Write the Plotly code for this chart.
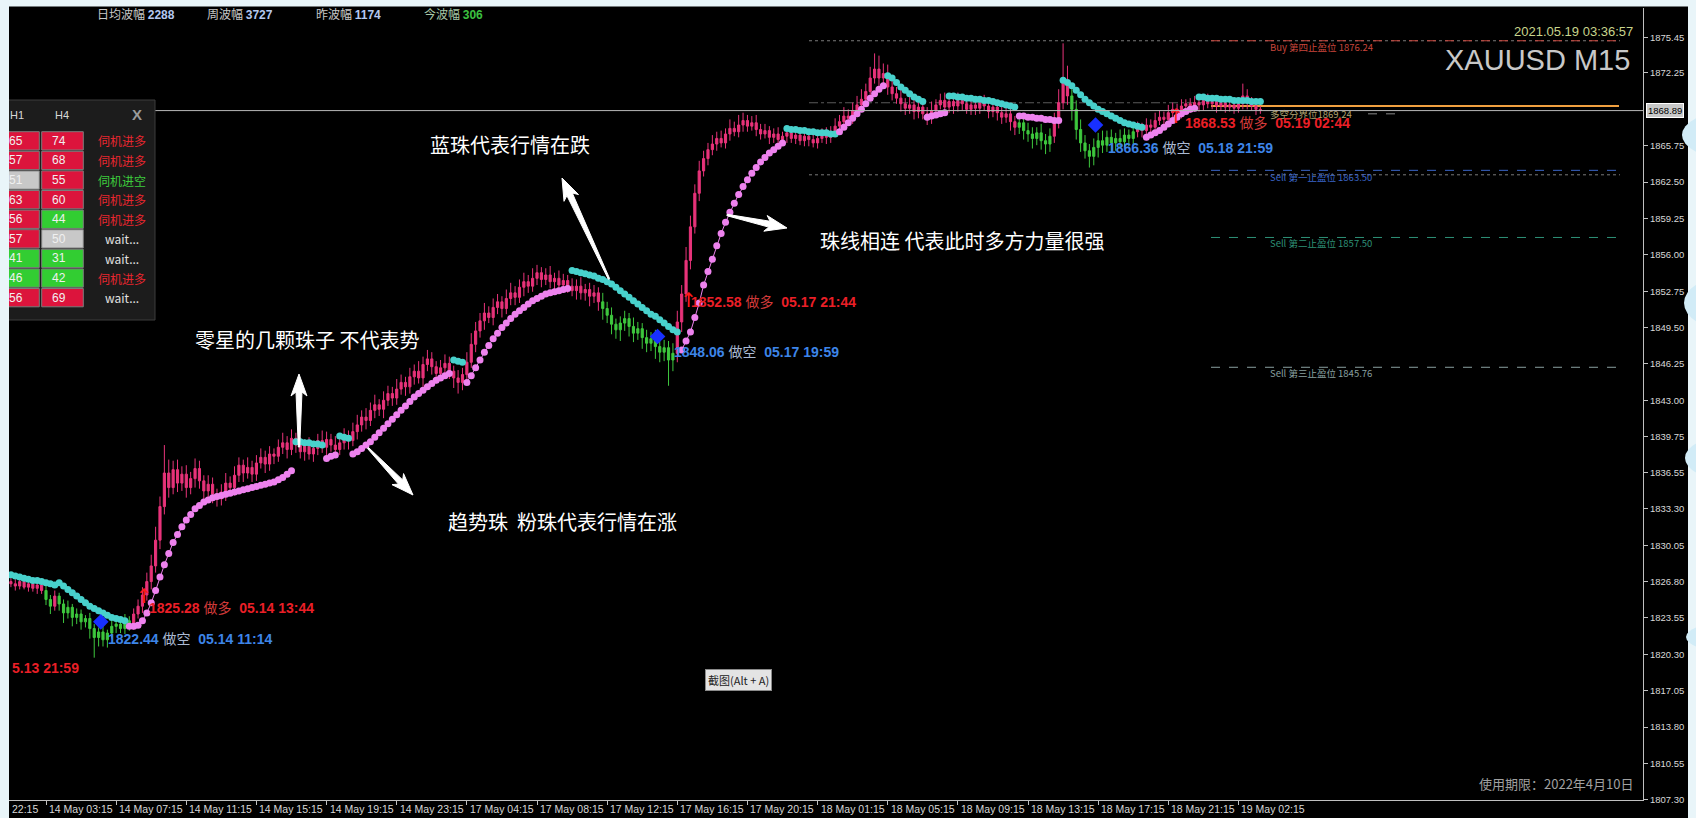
import math
import plotly.graph_objects as go

# ---------------- data ----------------
first_bar = -8
first_open = 1826.8
close = [
    1826.6, 1826.4, 1826.8, 1826.3, 1826.6, 1826.2, 1826.5, 1826.0,
    1825.2, 1824.6, 1825.5, 1824.8, 1824.0, 1824.5, 1823.6, 1823.9, 1823.2, 1823.5,
    1822.6, 1821.8, 1822.3, 1821.6, 1822.2, 1822.8, 1823.0, 1822.6, 1823.3, 1823.0,
    1823.9, 1824.6, 1825.6, 1826.8, 1828.2, 1830.5, 1833.5, 1836.5, 1835.2, 1836.8,
    1835.6, 1836.4, 1835.2, 1836.0, 1836.9, 1835.8, 1834.9, 1835.5, 1834.6, 1834.2,
    1834.8, 1835.6, 1835.2, 1836.3, 1837.2, 1836.5, 1837.0, 1836.4, 1837.4, 1837.9,
    1837.3, 1838.2, 1838.0, 1838.8, 1839.2, 1838.6, 1839.6, 1839.0, 1838.4, 1838.9,
    1838.2, 1838.7, 1839.4, 1838.8, 1839.5, 1839.0, 1838.6, 1839.2, 1839.8, 1839.4,
    1840.2, 1840.8, 1841.5, 1841.2, 1842.1, 1842.6, 1842.2, 1843.0, 1843.6, 1843.2,
    1844.0, 1844.6, 1844.2, 1845.1, 1845.6, 1845.0, 1846.2, 1846.7, 1846.0, 1845.4,
    1845.9, 1846.3, 1845.6, 1845.0, 1844.6, 1845.3, 1846.4, 1848.0, 1849.2, 1850.1,
    1850.8, 1850.4, 1851.3, 1851.8, 1851.2, 1852.1, 1852.6, 1852.2, 1853.1, 1853.6,
    1853.2, 1853.9, 1854.4, 1853.8, 1854.2, 1853.6, 1853.9, 1853.3, 1853.7, 1853.2,
    1852.8, 1853.2, 1852.6, 1852.9, 1852.3, 1852.6, 1851.8, 1851.2, 1850.6, 1849.8,
    1849.3, 1849.9, 1850.3, 1849.6, 1849.0, 1849.4, 1848.6, 1848.1, 1848.5, 1847.8,
    1847.3, 1847.7, 1846.6, 1847.2, 1850.0, 1852.5, 1855.5, 1858.5, 1861.5, 1863.5,
    1864.6, 1865.4, 1865.9, 1866.4, 1866.0, 1866.8, 1867.3, 1867.0, 1867.6, 1868.0,
    1867.5, 1867.8, 1867.2, 1866.8, 1867.1, 1866.5, 1866.8, 1866.3, 1866.6, 1866.9,
    1866.4, 1866.7, 1866.2, 1866.6, 1866.3, 1866.0, 1866.4, 1866.8, 1866.5, 1867.0,
    1867.5, 1867.9, 1868.4, 1868.2, 1868.9, 1869.4, 1869.9, 1870.6, 1871.8, 1872.6,
    1871.8, 1872.2, 1871.0, 1870.4, 1870.0, 1869.5, 1869.1, 1869.4, 1868.8, 1869.2,
    1868.6, 1868.3, 1868.9, 1869.4, 1869.8, 1869.2, 1869.7, 1869.3, 1869.8, 1869.5,
    1869.0, 1869.4, 1869.1, 1869.6, 1869.3, 1868.8, 1869.2, 1868.7, 1868.3, 1868.6,
    1867.9, 1867.4, 1867.8, 1867.1, 1866.8, 1866.4, 1866.9, 1866.2, 1865.9, 1866.6,
    1867.8, 1869.6, 1871.4, 1870.2, 1869.0, 1867.2, 1866.0, 1865.3, 1864.8, 1865.6,
    1866.2, 1865.8, 1866.5, 1866.0, 1866.4, 1866.1, 1866.7, 1866.4, 1867.0, 1867.3,
    1867.1, 1867.6, 1867.4, 1868.0, 1868.3, 1868.1, 1868.7, 1869.0, 1868.8, 1869.3,
    1869.5, 1869.2, 1869.6, 1869.4, 1869.8, 1869.5, 1869.7, 1869.3, 1869.6, 1869.2,
    1869.4, 1869.1, 1869.5, 1870.2, 1869.6, 1869.3, 1869.0, 1868.9,
]
wick_hi = [
    0.3, 0.4, 0.2, 0.5, 0.3, 0.4, 0.3, 0.5, 0.6, 0.4, 0.5, 0.3, 0.4, 0.6, 0.3, 0.5, 0.4, 0.3, 0.5, 0.4,
    0.4, 0.6, 0.3, 0.5, 0.4, 0.3, 0.6, 0.4, 0.5, 0.6, 0.7, 0.8, 1.0, 1.2, 0.9, 2.5, 1.2, 0.8, 0.9, 0.7,
    0.8, 0.6, 0.9, 0.7, 0.5, 0.8, 0.6, 0.5, 0.7, 0.9, 0.6, 0.8, 0.7, 0.5, 0.9, 0.6, 0.7, 0.8, 0.6, 0.7,
    0.5, 0.7, 0.9, 0.6, 0.8, 0.5, 0.7, 0.6, 0.8, 0.5, 0.6, 0.9, 0.7, 0.5, 0.8, 0.6, 0.7, 0.5, 0.8, 0.9,
    0.6, 0.8, 0.7, 0.9, 0.5, 0.8, 0.7, 0.6, 0.9, 0.7, 0.5, 0.8, 0.6, 0.9, 0.7, 0.8, 0.6, 0.5, 0.7, 0.8,
    0.6, 0.5, 0.7, 0.6, 0.9, 1.0, 0.8, 0.7, 0.9, 0.6, 0.8, 0.7, 0.5, 0.8, 0.9, 0.6, 0.7, 0.8, 0.6, 0.9,
    0.7, 0.5, 0.6, 0.8, 0.5, 0.7, 0.6, 0.5, 0.7, 0.6, 0.8, 0.5, 0.6, 0.7, 0.5, 0.8, 0.6, 0.7, 0.5, 0.6,
    0.7, 0.5, 0.8, 0.6, 0.5, 0.7, 0.6, 0.8, 0.5, 0.7, 0.6, 0.9, 1.0, 0.8, 1.2, 1.0, 0.8, 0.9, 0.7, 0.6,
    0.8, 0.6, 0.7, 0.5, 0.8, 0.6, 0.9, 0.7, 0.5, 0.6, 0.7, 0.5, 0.6, 0.4, 0.5, 0.6, 0.4, 0.5, 0.6, 0.4,
    0.5, 0.4, 0.6, 0.5, 0.4, 0.5, 0.6, 0.5, 0.7, 0.6, 0.8, 0.6, 0.7, 0.8, 0.9, 0.7, 1.0, 1.4, 1.2, 0.9,
    0.8, 0.7, 0.6, 0.8, 0.5, 0.7, 0.6, 0.5, 0.7, 0.6, 0.8, 0.5, 0.6, 0.7, 0.5, 0.6, 0.7, 0.5, 0.6, 0.8,
    0.5, 0.6, 0.7, 0.5, 0.6, 0.4, 0.5, 0.6, 0.7, 0.5, 0.6, 0.5, 0.7, 0.6, 0.5, 0.8, 0.6, 0.7, 0.9, 1.2,
    3.5, 1.5, 1.0, 0.8, 0.9, 0.7, 0.6, 0.8, 0.7, 0.9, 0.6, 0.7, 0.5, 0.8, 0.6, 0.5, 0.7, 0.6, 0.5, 0.6,
    0.5, 0.7, 0.6, 0.5, 0.7, 0.6, 0.5, 0.6, 0.4, 0.5, 0.6, 0.4, 0.5, 0.6, 0.4, 0.5, 0.6, 0.4, 0.5, 0.4,
    0.5, 1.1, 0.6, 0.5, 0.4, 0.3,
]
wick_lo = [
    0.3, 0.4, 0.3, 0.2, 0.4, 0.3, 0.5, 0.3, 0.5, 0.7, 0.4, 0.6, 0.9, 0.5, 0.8, 0.6, 0.7, 0.5, 0.9, 1.8,
    0.8, 0.6, 0.7, 0.5, 0.6, 0.4, 0.5, 0.6, 0.5, 0.4, 0.6, 0.5, 0.7, 0.6, 0.8, 0.7, 0.9, 0.6, 0.8, 0.7,
    0.9, 0.6, 0.8, 0.7, 0.9, 0.6, 0.8, 0.7, 0.6, 0.8, 0.5, 0.7, 0.6, 0.8, 0.5, 0.7, 0.6, 0.5, 0.8, 0.6,
    0.7, 0.5, 0.6, 0.8, 0.5, 0.7, 0.6, 0.8, 0.5, 0.7, 0.6, 0.5, 0.8, 0.6, 0.7, 0.5, 0.6, 0.8, 0.5, 0.7,
    0.6, 0.8, 0.5, 0.7, 0.6, 0.8, 0.5, 0.7, 0.6, 0.5, 0.8, 0.6, 0.7, 0.5, 0.8, 0.6, 0.7, 0.9, 0.6, 0.8,
    0.7, 0.9, 1.0, 0.7, 0.6, 0.5, 0.7, 0.6, 0.8, 0.5, 0.7, 0.6, 0.8, 0.5, 0.6, 0.7, 0.5, 0.8, 0.6, 0.5,
    0.6, 0.7, 0.5, 0.6, 0.8, 0.5, 0.7, 0.6, 0.5, 0.8, 0.6, 0.7, 0.9, 0.6, 0.8, 1.0, 0.7, 0.9, 0.8, 1.0,
    0.7, 0.9, 0.8, 0.6, 1.0, 0.8, 0.7, 1.1, 0.9, 0.8, 2.3, 1.0, 0.8, 0.9, 0.7, 0.8, 0.6, 0.7, 0.5, 0.6,
    0.5, 0.6, 0.4, 0.5, 0.6, 0.4, 0.5, 0.6, 0.5, 0.4, 0.6, 0.5, 0.4, 0.6, 0.5, 0.4, 0.5, 0.6, 0.4, 0.5,
    0.4, 0.5, 0.6, 0.4, 0.5, 0.4, 0.6, 0.5, 0.4, 0.5, 0.6, 0.4, 0.5, 0.6, 0.5, 0.4, 0.6, 0.5, 0.7, 0.6,
    0.7, 0.6, 0.5, 0.7, 0.6, 0.5, 0.7, 0.6, 0.5, 0.7, 0.6, 0.5, 0.4, 0.6, 0.5, 0.7, 0.5, 0.6, 0.4, 0.5,
    0.6, 0.5, 0.4, 0.6, 0.5, 0.7, 0.6, 0.5, 0.8, 0.7, 0.6, 0.8, 0.7, 0.9, 0.6, 0.8, 0.9, 0.7, 0.6, 0.5,
    0.6, 0.8, 1.0, 0.9, 0.8, 0.7, 1.0, 0.8, 0.9, 0.7, 0.6, 0.8, 0.7, 0.6, 0.5, 0.7, 0.6, 0.5, 0.6, 0.5,
    0.6, 0.5, 0.4, 0.6, 0.5, 0.4, 0.5, 0.6, 0.4, 0.5, 0.4, 0.6, 0.5, 0.4, 0.5, 0.6, 0.4, 0.5, 0.4, 0.5,
    0.4, 0.5, 0.6, 0.4, 0.5, 0.3,
]
# candle colour runs: (colour, number of bars)  p = pink, g = green
candle_runs = [("p", 8), ("g", 2), ("p", 1), ("g", 17), ("p", 107), ("g", 17),
               ("p", 78), ("g", 8), ("p", 4), ("g", 15), ("p", 29)]

# trend beads: (colour, first bar, values)  c = cyan (down), p = pink (up)
bead_segs = [
    ("c", -8, [1827.4, 1827.3, 1827.2, 1827.1, 1827.0, 1826.9, 1826.9, 1826.8, 1826.7, 1826.6,
               1826.5, 1826.7, 1826.4, 1826.1, 1825.8, 1825.5, 1825.2, 1824.9, 1824.6, 1824.4,
               1824.2, 1824.0, 1823.8, 1823.6, 1823.5, 1823.4, 1823.3]),
    ("p", 19, [1822.8, 1822.8, 1822.9, 1823.3, 1824.0, 1824.9, 1826.0, 1827.2, 1828.3, 1829.3,
               1830.3, 1831.0, 1831.7, 1832.3, 1832.8, 1833.3, 1833.6, 1833.9, 1834.1, 1834.3,
               1834.4, 1834.5, 1834.6, 1834.7, 1834.8, 1834.9, 1835.0, 1835.1, 1835.2, 1835.3,
               1835.4, 1835.5, 1835.6, 1835.7, 1835.9, 1836.1, 1836.4, 1836.7]),
    ("c", 57, [1839.3, 1839.3, 1839.2, 1839.2, 1839.1, 1839.1, 1839.0]),
    ("p", 64, [1837.8, 1838.0, 1838.1]),
    ("c", 67, [1839.8, 1839.7, 1839.6]),
    ("p", 70, [1838.2, 1838.4, 1838.7, 1839.0, 1839.3, 1839.7, 1840.1, 1840.5, 1840.9, 1841.3,
               1841.7, 1842.1, 1842.5, 1842.9, 1843.3, 1843.6, 1843.9, 1844.2, 1844.5, 1844.8,
               1845.0, 1845.2, 1845.4]),
    ("c", 93, [1846.6, 1846.5, 1846.4]),
    ("p", 96, [1844.6, 1845.2, 1845.9, 1846.6, 1847.3, 1847.9, 1848.5, 1849.0, 1849.5, 1849.9,
               1850.3, 1850.7, 1851.0, 1851.3, 1851.6, 1851.9, 1852.1, 1852.3, 1852.5, 1852.6,
               1852.7, 1852.8, 1852.9, 1853.0]),
    ("c", 120, [1854.6, 1854.5, 1854.4, 1854.3, 1854.2, 1854.1, 1853.9, 1853.8, 1853.6, 1853.4,
                1853.1, 1852.8, 1852.5, 1852.2, 1851.9, 1851.6, 1851.3, 1851.0, 1850.7, 1850.5,
                1850.2, 1849.9, 1849.6, 1849.3, 1849.1]),
    ("p", 145, [1847.5, 1848.3, 1849.1, 1850.4, 1851.7, 1853.3, 1854.5, 1855.6, 1856.8, 1857.9,
                1858.9, 1859.8, 1860.6, 1861.4, 1862.1, 1862.7, 1863.3, 1863.8, 1864.3, 1864.7,
                1865.1, 1865.4, 1865.7, 1866.0]),
    ("c", 169, [1867.3, 1867.2, 1867.2, 1867.1, 1867.1, 1867.0, 1867.0, 1866.9, 1866.9, 1866.9,
                1866.8, 1866.8]),
    ("p", 181, [1867.0, 1867.4, 1867.8, 1868.2, 1868.6, 1869.0, 1869.5, 1870.0, 1870.4, 1870.8,
                1871.1]),
    ("c", 192, [1872.0, 1871.8, 1871.4, 1871.0, 1870.7, 1870.4, 1870.1, 1869.9, 1869.7]),
    ("p", 201, [1868.3, 1868.4, 1868.5, 1868.6, 1868.7]),
    ("c", 206, [1870.2, 1870.2, 1870.1, 1870.1, 1870.0, 1870.0, 1869.9, 1869.9, 1869.8, 1869.8,
                1869.7, 1869.6, 1869.5, 1869.4, 1869.3, 1869.2]),
    ("p", 222, [1868.4, 1868.4, 1868.3, 1868.3, 1868.2, 1868.2, 1868.1, 1868.1, 1868.0, 1868.0]),
    ("c", 232, [1871.6, 1871.4, 1871.1, 1870.7, 1870.3, 1869.9, 1869.6, 1869.3, 1869.0, 1868.8,
                1868.6, 1868.4, 1868.2, 1868.0, 1867.8, 1867.7, 1867.6, 1867.5, 1867.4]),
    ("p", 251, [1866.5, 1866.7, 1866.9, 1867.1, 1867.4, 1867.7, 1868.0, 1868.3, 1868.6, 1868.8,
                1869.0, 1869.1]),
    ("c", 263, [1870.1, 1870.1, 1870.0, 1870.0, 1870.0, 1869.9, 1869.9, 1869.9, 1869.8, 1869.8,
                1869.8, 1869.8, 1869.7, 1869.7, 1869.7]),
]

time_tick_bars = [0, 16, 32, 48, 64, 80, 96, 112, 128, 144, 160, 176, 192, 208, 224, 240, 256, 272]
time_labels = ["14 May 03:15", "14 May 07:15", "14 May 11:15", "14 May 15:15", "14 May 19:15",
               "14 May 23:15", "17 May 04:15", "17 May 08:15", "17 May 12:15", "17 May 16:15",
               "17 May 20:15", "18 May 01:15", "18 May 05:15", "18 May 09:15", "18 May 13:15",
               "18 May 17:15", "18 May 21:15", "19 May 02:15"]
price_ticks = [1875.45, 1872.25, 1865.75, 1862.50, 1859.25, 1856.00, 1852.75, 1849.50, 1846.25,
               1843.00, 1839.75, 1836.55, 1833.30, 1830.05, 1826.80, 1823.55, 1820.30, 1817.05,
               1813.80, 1810.55, 1807.30]
bid_price = 1868.89

sell_bar = [12.5, 139.5, 239.4]
sell_price = [1823.2, 1848.7, 1867.6]
buy_bar = [22.4, 146.6, 257.8]
buy_price = [1825.3, 1851.8, 1868.2]

sig_labels = [  # (kind, price text, time text, left px, centre px-y)
    ("buy", "1825.28", "05.14 13:44", 147, 608),
    ("sell", "1822.44", "05.14 11:14", 106, 639),
    ("buy", "1852.58", "05.17 21:44", 689, 302),
    ("sell", "1848.06", "05.17 19:59", 672, 352),
    ("sell", "1866.36", "05.18 21:59", 1106, 148),
    ("buy", "1868.53", "05.19 02:44", 1183, 123),
]

levels = [  # (price, colour, dash, width, x from px, x to px)
    (1875.13, "#7a7a7a", "dot", 1, 809, 1620),
    (1875.13, "#c8463c", "dash", 1, 1211, 1619),
    (1869.59, "#5a5a5a", "dashdot", 1, 809, 1205),
    (1863.15, "#7a7a7a", "dot", 1, 809, 1620),
    (1863.55, "#3a66c8", "dash", 1, 1211, 1619),
    (1857.55, "#2e9077", "dash", 1, 1211, 1619),
    (1845.95, "#8aa0a0", "dash", 1, 1211, 1619),
    (1869.30, "#f0a040", "solid", 2, 1211, 1619),
]
level_labels = [  # (text, colour, left px, y px)
    ("Buy 第四止盈位 1876.24", "#c8463c", 1268, 47),
    ("多空分界位1869.24", "#b0a070", 1268, 114),
    ("Sell 第一止盈位 1863.50", "#3a66c8", 1268, 177),
    ("Sell 第二止盈位 1857.50", "#2e9077", 1268, 243),
    ("Sell 第三止盈位 1845.76", "#8aa0a0", 1268, 373),
]

table_h1 = [65, 57, 51, 63, 56, 57, 41, 46, 56]
table_h4 = [74, 68, 55, 60, 44, 50, 31, 42, 69]
table_h1_col = ["r", "r", "s", "r", "r", "r", "g", "g", "r"]
table_h4_col = ["r", "r", "r", "r", "g", "s", "g", "g", "r"]
table_sig = ["伺机进多", "伺机进多", "伺机进空", "伺机进多", "伺机进多", "wait...", "wait...", "伺机进多", "wait..."]

header = [("日均波幅", "2288", "#b4c8f0", 95), ("周波幅", "3727", "#b4c8f0", 205),
          ("昨波幅", "1174", "#b4c8f0", 314), ("今波幅", "306", "#3cc040", 422)]

notes = [("蓝珠代表行情在跌", 510, 144), ("珠线相连 代表此时多方力量很强", 962, 240),
         ("零星的几颗珠子 不代表势", 307, 339), ("趋势珠  粉珠代表行情在涨", 562, 521)]
note_arrows = [((609, 279), (562, 178)), ((727, 215), (787, 228)),
               ((299, 447), (299, 374)), ((368, 448), (413, 495))]

# ---------------- geometry ----------------
W, H = 1696, 818
ML, MR, MT, MB = 9, 53, 8, 18
PW, PH = W - ML - MR, H - MT - MB
FX0, DX = 46.0, 4.384          # pixel of bar 0, pixels per bar
PXY = 11.19                     # pixels per dollar
YMIN = 1807.30
X_RANGE = [(ML - FX0) / DX, (ML + PW - FX0) / DX]
Y_RANGE = [YMIN - 0.02, YMIN + PH / PXY - 0.02]


def xp(fx):
    return (fx - ML) / PW


def yp(fy):
    return (MT + PH - fy) / PH


def bar_of(fx):
    return (fx - FX0) / DX


PINK, GREEN = "#e8337a", "#3ec83e"
BEAD_P, BEAD_C = "#ee82ee", "#48d1cc"
FONT = "Liberation Sans, Noto Sans CJK SC"
CJK = "Noto Sans CJK SC, Liberation Sans"

# ---------------- candles ----------------
n = len(close)
bars = list(range(first_bar, first_bar + n))
opens = [first_open] + close[:-1]
highs = [max(o, c) + w for o, c, w in zip(opens, close, wick_hi)]
lows = [min(o, c) - w for o, c, w in zip(opens, close, wick_lo)]
cols = []
for c, k in candle_runs:
    cols += [c] * k

fig = go.Figure()
for key, colr in (("p", PINK), ("g", GREEN)):
    idx = [i for i in range(n) if cols[i] == key]
    fig.add_trace(go.Candlestick(
        x=[bars[i] for i in idx], open=[opens[i] for i in idx], high=[highs[i] for i in idx],
        low=[lows[i] for i in idx], close=[close[i] for i in idx],
        increasing=dict(line=dict(color=colr, width=1), fillcolor=colr),
        decreasing=dict(line=dict(color=colr, width=1), fillcolor=colr),
        whiskerwidth=0, hoverinfo="skip", showlegend=False))

for kind, start, vals in bead_segs:
    colr = BEAD_P if kind == "p" else BEAD_C
    fig.add_trace(go.Scatter(
        x=list(range(start, start + len(vals))), y=vals, mode="lines+markers",
        line=dict(color=colr, width=1), marker=dict(color=colr, size=7),
        hoverinfo="skip", showlegend=False))

fig.add_trace(go.Scatter(x=sell_bar, y=sell_price, mode="markers",
                         marker=dict(symbol="diamond", color="#1830ff", size=12),
                         hoverinfo="skip", showlegend=False))
fig.add_trace(go.Scatter(x=buy_bar, y=buy_price, mode="text", text=["↑"] * len(buy_bar),
                         textfont=dict(color="#ff1a1a", size=20, family="DejaVu Sans"),
                         hoverinfo="skip", showlegend=False))

shapes = []
ann = []

# level lines
for price, colr, dash, wdt, x0p, x1p in levels:
    shapes.append(dict(type="line", xref="x", yref="y", x0=bar_of(x0p), x1=bar_of(x1p),
                       y0=price, y1=price, line=dict(color=colr, width=wdt, dash=dash), layer="below"))
shapes.append(dict(type="line", xref="x", yref="y", x0=bar_of(1368), x1=bar_of(1404),
                   y0=1868.60, y1=1868.60, line=dict(color="#8a8a8a", width=1, dash="dash"), layer="below"))
# bid line
shapes.append(dict(type="line", xref="paper", yref="y", x0=xp(155), x1=1, y0=bid_price, y1=bid_price,
                   line=dict(color="#b8b8b8", width=1), layer="above"))
for txt, colr, fx, fy in level_labels:
    ann.append(dict(xref="paper", yref="paper", x=xp(fx), y=yp(fy), xanchor="left", yanchor="middle",
                    text=txt, showarrow=False, font=dict(color=colr, size=9.5, family=CJK)))

# signal labels
for kind, ptxt, ttxt, fx, fy in sig_labels:
    if kind == "buy":
        main, mid, word = "#ea1f27", "#d23a3a", "做多"
    else:
        main, mid, word = "#3d85e8", "#aab9d2", "做空"
    ann.append(dict(xref="paper", yref="paper", x=xp(fx), y=yp(fy), xanchor="left", yanchor="middle",
                    showarrow=False, font=dict(color=main, size=14, family=FONT),
                    text=f"<b>{ptxt}</b> <span style='color:{mid}'>{word}</span>  <b>{ttxt}</b>"))
ann.append(dict(xref="paper", yref="paper", x=xp(10), y=yp(668), xanchor="left", yanchor="middle",
                showarrow=False, text="<b>5.13 21:59</b>", font=dict(color="#ea1f27", size=14, family=FONT)))

# notes and arrows
for txt, fx, fy in notes:
    ann.append(dict(xref="paper", yref="paper", x=xp(fx), y=yp(fy), xanchor="center", yanchor="middle",
                    showarrow=False, text=txt, font=dict(color="#ffffff", size=20, family=CJK)))


def arrow_path(tail, tip, hl=18, hw=8, sw=3.0, tw=0.7):
    (x0, y0), (x1, y1) = tail, tip
    dx, dy = x1 - x0, y1 - y0
    d = math.hypot(dx, dy)
    ux, uy = dx / d, dy / d
    nx, ny = -uy, ux
    bx, by = x1 - ux * hl, y1 - uy * hl
    pts = [(x0 + nx * tw, y0 + ny * tw), (bx + nx * sw, by + ny * sw),
           (bx - ux * 4 + nx * hw, by - uy * 4 + ny * hw), (x1, y1),
           (bx - ux * 4 - nx * hw, by - uy * 4 - ny * hw), (bx - nx * sw, by - ny * sw),
           (x0 - nx * tw, y0 - ny * tw)]
    return "M " + " L ".join(f"{xp(x):.5f},{yp(y):.5f}" for x, y in pts) + " Z"


for tail, tip in note_arrows:
    shapes.append(dict(type="path", xref="paper", yref="paper", path=arrow_path(tail, tip),
                       fillcolor="#ffffff", line=dict(color="#ffffff", width=1), layer="above"))

# header values
for lab, val, vcol, fx in header:
    lcol = "#a8c8a8" if lab == "今波幅" else "#c8c8c8"
    ann.append(dict(xref="paper", yref="paper", x=xp(fx), y=yp(14), xanchor="left", yanchor="middle",
                    showarrow=False, font=dict(color=lcol, size=12, family=CJK),
                    text=f"{lab} <b><span style='color:{vcol};font-family:Liberation Sans'>{val}</span></b>"))

# table panel
shapes.append(dict(type="rect", xref="paper", yref="paper", x0=xp(2), x1=xp(155), y0=yp(100), y1=yp(320),
                   fillcolor="#1c1c1c", line=dict(color="#3c3c3c", width=1), layer="above"))
cellc = {"r": "#dc143c", "g": "#32cd32", "s": "#c8c8c8"}
for fx, t in ((17, "H1"), (62, "H4")):
    ann.append(dict(xref="paper", yref="paper", x=xp(fx), y=yp(115), xanchor="center", yanchor="middle",
                    showarrow=False, text=t, font=dict(color="#d8d8d8", size=11, family=FONT)))
ann.append(dict(xref="paper", yref="paper", x=xp(137), y=yp(115), xanchor="center", yanchor="middle",
                showarrow=False, text="<b>X</b>", font=dict(color="#9a9a9a", size=15, family=FONT)))
for r in range(len(table_h1)):
    top = 131.7 + 19.6 * r
    bot = top + 18.3
    for x0, x1, ck in ((2, 39.3, table_h1_col[r]), (41.7, 83.3, table_h4_col[r])):
        shapes.append(dict(type="rect", xref="paper", yref="paper", x0=xp(x0), x1=xp(x1), y0=yp(top),
                           y1=yp(bot), fillcolor=cellc[ck], line=dict(color="#7c7c7c", width=1), layer="above"))
    cy = (top + bot) / 2
    ann.append(dict(xref="paper", yref="paper", x=xp(16), y=yp(cy), xanchor="center", yanchor="middle",
                    showarrow=False, text=str(table_h1[r]), font=dict(color="#f0f0f0", size=12, family=FONT)))
    ann.append(dict(xref="paper", yref="paper", x=xp(59), y=yp(cy), xanchor="center", yanchor="middle",
                    showarrow=False, text=str(table_h4[r]), font=dict(color="#f0f0f0", size=12, family=FONT)))
    s = table_sig[r]
    scol = "#e8262f" if s == "伺机进多" else ("#3ccc3c" if s == "伺机进空" else "#e0e0e0")
    ann.append(dict(xref="paper", yref="paper", x=xp(122), y=yp(cy), xanchor="center", yanchor="middle",
                    showarrow=False, text=s, font=dict(color=scol, size=12, family=CJK)))

# time-axis labels (written just right of each tick, MT4 style)
for b, t in zip(time_tick_bars, time_labels):
    ann.append(dict(xref="x", yref="paper", x=b, y=yp(809), xanchor="left", yanchor="middle", xshift=1,
                    showarrow=False, text=t, font=dict(color="#d8d8d8", size=10.5, family=FONT)))
ann.append(dict(xref="paper", yref="paper", x=xp(10), y=yp(809), xanchor="left", yanchor="middle",
                showarrow=False, text="22:15", font=dict(color="#d8d8d8", size=10.5, family=FONT)))

# right-side texts
ann.append(dict(xref="paper", yref="paper", x=xp(1635), y=yp(31), xanchor="right", yanchor="middle",
                showarrow=False, text="2021.05.19 03:36:57", font=dict(color="#c8d48c", size=13, family=FONT)))
ann.append(dict(xref="paper", yref="paper", x=xp(1632), y=yp(60), xanchor="right", yanchor="middle",
                showarrow=False, text="XAUUSD M15", font=dict(color="#c8c8c8", size=29, family=FONT)))
ann.append(dict(xref="paper", yref="paper", x=xp(1636), y=yp(783), xanchor="right", yanchor="middle",
                showarrow=False, text="使用期限：2022年4月10日", font=dict(color="#a0a0a0", size=13, family=CJK)))
ann.append(dict(xref="paper", yref="paper", x=xp(738), y=yp(680), xanchor="center", yanchor="middle",
                showarrow=False, text="截图(Alt + A)", bgcolor="#e4e4e4", bordercolor="#8a8a8a",
                borderwidth=1, borderpad=2, font=dict(color="#222222", size=11, family=CJK)))
ann.append(dict(xref="paper", yref="y", x=xp(1646), y=bid_price, xanchor="left", yanchor="middle",
                showarrow=False, text="1868.89", bgcolor="#c8c8c8", bordercolor="#ffffff", borderwidth=1,
                borderpad=1, font=dict(color="#000000", size=9.5, family=FONT)))

# light frame of the screenshot, with the soft bubbles at its right edge
LB = "#e9f5f9"
for x0, x1, y0, y1 in ((0, ML, 0, H), (0, W, 0, 6.5), (1688, W, 0, H)):
    shapes.append(dict(type="rect", xref="paper", yref="paper", x0=xp(x0), x1=xp(x1), y0=yp(y1), y1=yp(y0),
                       fillcolor=LB, line=dict(width=0), layer="above"))
for x0, y0, y1 in ((1682, 112, 158), (1684, 276, 330), (1685, 436, 480), (1686, 622, 652)):
    shapes.append(dict(type="circle", xref="paper", yref="paper", x0=xp(x0), x1=xp(x0 + 90),
                       y0=yp(y1), y1=yp(y0), fillcolor="#d2ecf7", line=dict(width=0), layer="above"))

fig.update_layout(
    width=W, height=H, margin=dict(l=ML, r=MR, t=MT, b=MB, autoexpand=False),
    paper_bgcolor="#000000", plot_bgcolor="#000000", showlegend=False, hovermode=False,
    shapes=shapes, annotations=ann,
    xaxis=dict(range=X_RANGE, rangeslider=dict(visible=False), showgrid=False, zeroline=False,
               showline=True, linecolor="#c0c0c0", linewidth=1, ticks="outside", ticklen=4,
               tickcolor="#c0c0c0", tickvals=time_tick_bars, showticklabels=False,
               fixedrange=True, automargin=False),
    yaxis=dict(range=Y_RANGE, side="right", showgrid=False, zeroline=False, showline=True,
               linecolor="#c0c0c0", linewidth=1, ticks="outside", ticklen=4, tickcolor="#c0c0c0",
               tickvals=price_ticks, ticktext=[f"{v:.2f}" for v in price_ticks],
               tickfont=dict(color="#d8d8d8", size=9.5, family=FONT), fixedrange=True, automargin=False),
)

fig.write_html("out.html", config={"displayModeBar": False},
               post_script="document.body.style.margin='0';document.body.style.overflow='hidden';")
